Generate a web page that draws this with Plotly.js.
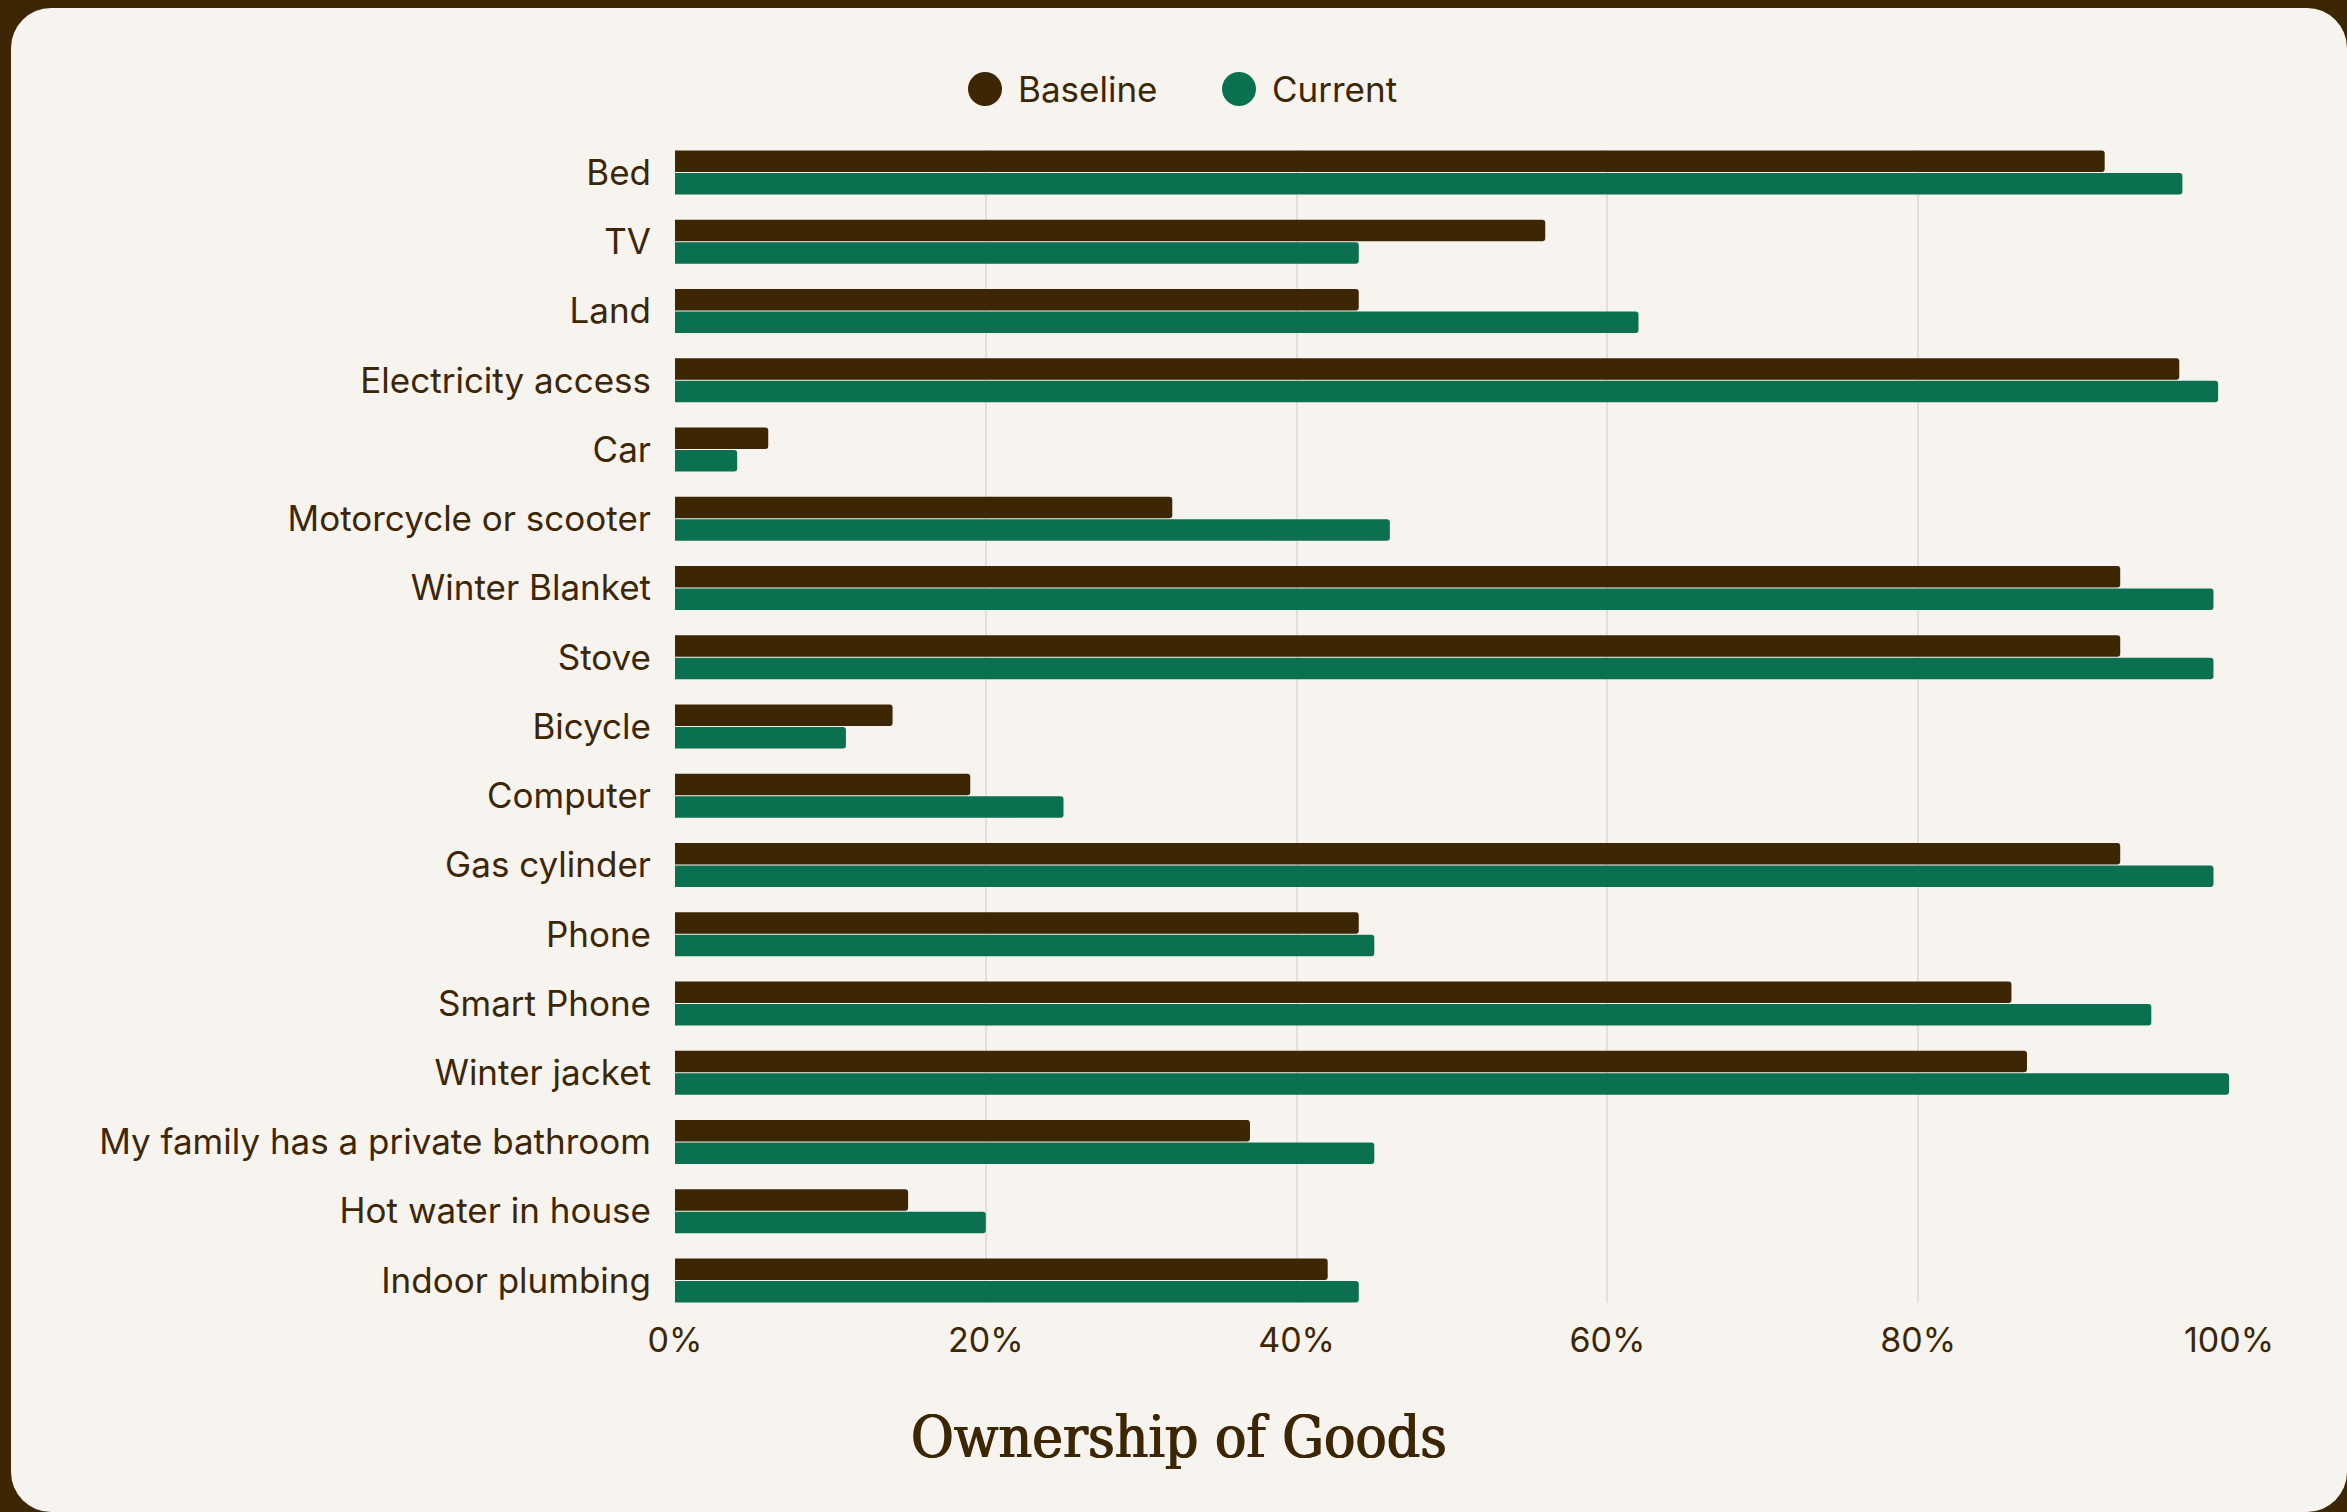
<!DOCTYPE html>
<html>
<head>
<meta charset="utf-8">
<script src="https://cdn.plot.ly/plotly-3.0.1.min.js"></script>
<style>
  html, body { margin: 0; padding: 0; width: 2347px; height: 1512px; overflow: hidden; background: #3c2603; }
  #card { position: absolute; left: 11px; top: 8px; width: 2336px; height: 1504px; background: #f7f4ef; border-radius: 40px; }
  #chart { position: absolute; left: 0; top: 0; width: 2347px; height: 1512px; }
</style>
</head>
<body>
<div id="card"></div>
<div id="chart"></div>
<script>
const categories = [
  "Bed", "TV", "Land", "Electricity access", "Car", "Motorcycle or scooter",
  "Winter Blanket", "Stove", "Bicycle", "Computer", "Gas cylinder", "Phone",
  "Smart Phone", "Winter jacket", "My family has a private bathroom",
  "Hot water in house", "Indoor plumbing"
];
const baseline = [92, 56, 44, 96.8, 6, 32, 93, 93, 14, 19, 93, 44, 86, 87, 37, 15, 42];
const current  = [97, 44, 62, 99.3, 4, 46, 99, 99, 11, 25, 99, 45, 95, 100, 45, 20, 44];
const seriesNames = ["Baseline", "Current"];
const tickVals = [0, 0.2, 0.4, 0.6, 0.8, 1.0];
const tickText = ["0%", "20%", "40%", "60%", "80%", "100%"];

const BROWN = "#3c2603";
const GREEN = "#0b7050";
const TEXT = "#3c2603";
const FONT = "Inter, 'Noto Sans', sans-serif";

const W = 2347, H = 1512;
const M = { l: 675, r: 118, t: 150, b: 209 };
const pw = W - M.l - M.r, ph = H - M.t - M.b;
const px2x = p => (p - M.l) / pw;
const py2y = p => (H - M.b - p) / ph;

const traces = [
  { type: "bar", orientation: "h", name: seriesNames[0], y: categories, x: baseline.map(v => v / 100),
    marker: { color: BROWN, cornerradius: 3 }, showlegend: false, hoverinfo: "x+y" },
  { type: "bar", orientation: "h", name: seriesNames[1], y: categories, x: current.map(v => v / 100),
    marker: { color: GREEN, cornerradius: 3 }, showlegend: false, hoverinfo: "x+y" }
];

const legendY = py2y(89);
const shapes = [
  { type: "circle", xref: "paper", yref: "paper", xsizemode: "pixel", ysizemode: "pixel",
    xanchor: px2x(985), yanchor: legendY, x0: -17, x1: 17, y0: -17, y1: 17,
    fillcolor: BROWN, line: { width: 0 } },
  { type: "circle", xref: "paper", yref: "paper", xsizemode: "pixel", ysizemode: "pixel",
    xanchor: px2x(1239), yanchor: legendY, x0: -17, x1: 17, y0: -17, y1: 17,
    fillcolor: GREEN, line: { width: 0 } }
];
const annotations = [
  { xref: "paper", yref: "paper", x: px2x(1016), y: legendY, xanchor: "left", yanchor: "middle",
    text: seriesNames[0], showarrow: false, font: { family: FONT, size: 35, color: TEXT } },
  { xref: "paper", yref: "paper", x: px2x(1270), y: legendY, xanchor: "left", yanchor: "middle",
    text: seriesNames[1], showarrow: false, font: { family: FONT, size: 35, color: TEXT } }
];

const layout = {
  width: W, height: H,
  paper_bgcolor: "rgba(0,0,0,0)",
  plot_bgcolor: "rgba(0,0,0,0)",
  margin: M,
  barmode: "group",
  bargap: 0.35,
  bargroupgap: 0.05,
  showlegend: false,
  title: {
    text: "Ownership of Goods",
    font: { family: "'DejaVu Serif Condensed', 'DejaVu Serif', serif", size: 58, color: TEXT, weight: 400,
            shadow: "0.7px 0 0 #3c2603, -0.7px 0 0 #3c2603" },
    xref: "container", x: 1179 / W, yref: "container", y: 1 - 1437 / H, yanchor: "middle", xanchor: "center"
  },
  xaxis: {
    range: [0, 1],
    tickvals: tickVals, ticktext: tickText,
    showgrid: true, gridcolor: "#e4dfd8", gridwidth: 2,
    zeroline: false, showline: false,
    ticks: "", ticklabelstandoff: 14,
    tickfont: { family: FONT, size: 34, color: TEXT },
    fixedrange: true
  },
  yaxis: {
    type: "category",
    categoryorder: "array", categoryarray: categories,
    range: [categories.length - 1 + 0.325, -0.325],
    showgrid: false, zeroline: false, showline: false,
    ticks: "", ticklabelstandoff: 23,
    tickfont: { family: FONT, size: 35, color: TEXT },
    fixedrange: true
  },
  shapes: shapes,
  annotations: annotations
};

Plotly.newPlot("chart", traces, layout, { displayModeBar: false, staticPlot: true });
</script>
</body>
</html>
